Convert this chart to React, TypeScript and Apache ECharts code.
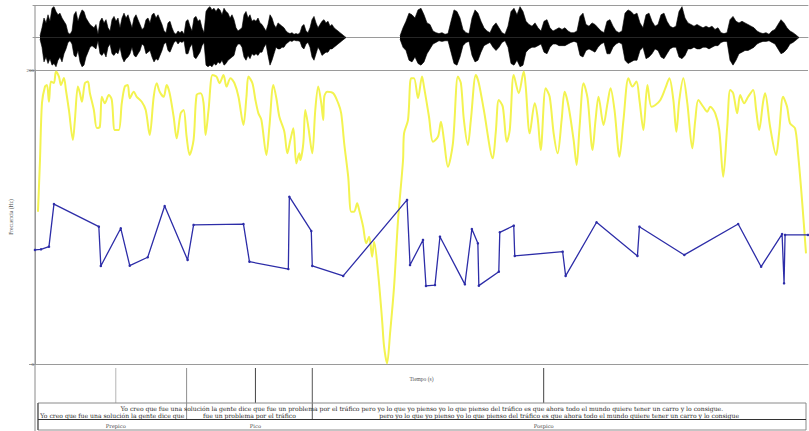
import React, { useEffect, useRef } from "react";
import * as echarts from "echarts";

// ---------- data (time in s, amplitude normalised, frequency in Hz) ----------
const T_MAX = 7.75;

// waveform envelope: [time, upper, lower]
const waveA: number[][] = [
  [0.07,0.05,-0.05],[0.09,0.3,-0.3],[0.11,0.6,-0.75],[0.13,0.45,-0.6],[0.15,0.7,-0.8],[0.17,0.5,-0.65],[0.19,0.9,-0.85],[0.21,0.95,-0.8],[0.23,0.8,-0.9],[0.25,0.7,-0.7],[0.27,0.75,-0.6],[0.29,0.6,-0.75],[0.31,0.5,-0.5],[0.33,0.4,-0.35],[0.35,0.15,-0.15],[0.37,0.1,-0.1],[0.39,0.2,-0.2],[0.41,0.7,-0.55],[0.43,0.8,-0.6],[0.45,0.5,-0.4],[0.47,0.7,-0.75],[0.49,0.85,-0.9],[0.51,0.8,-0.85],[0.53,0.6,-0.6],[0.55,0.5,-0.45],[0.57,0.4,-0.3],[0.59,0.35,-0.25],[0.61,0.3,-0.3],[0.63,0.4,-0.35],[0.65,0.1,-0.1],[0.67,0.5,-0.5],[0.69,0.6,-0.55],[0.71,0.45,-0.45],[0.73,0.55,-0.6],[0.75,0.3,-0.3],[0.77,0.2,-0.2],[0.79,0.55,-0.5],[0.81,0.65,-0.55],[0.83,0.5,-0.45],[0.85,0.6,-0.5],[0.87,0.3,-0.3],[0.89,0.6,-0.6],[0.91,0.75,-0.75],[0.93,0.6,-0.65],[0.95,0.7,-0.6],[0.97,0.5,-0.5],[0.99,0.3,-0.3],[1.01,0.6,-0.55],[1.03,0.7,-0.6],[1.05,0.55,-0.5],[1.07,0.4,-0.4],[1.09,0.25,-0.2],[1.11,0.3,-0.25],[1.13,0.55,-0.5],[1.15,0.6,-0.45],[1.17,0.45,-0.4],[1.19,0.7,-0.6],[1.21,0.75,-0.75],[1.23,0.6,-0.65],[1.25,0.7,-0.7],[1.27,0.55,-0.55],[1.29,0.4,-0.4],[1.31,0.2,-0.2],[1.33,0.15,-0.15],[1.35,0.45,-0.4],[1.37,0.5,-0.45],[1.39,0.3,-0.3],[1.41,0.15,-0.15],[1.43,0.1,-0.1],[1.45,0.2,-0.2],[1.47,0.15,-0.12],[1.49,0.2,-0.15],[1.51,0.1,-0.1],[1.53,0.5,-0.5],[1.55,0.55,-0.5],[1.57,0.35,-0.3],[1.59,0.2,-0.2],[1.61,0.6,-0.6],[1.63,0.65,-0.65],[1.65,0.5,-0.55],[1.67,0.55,-0.45],[1.69,0.3,-0.25],[1.71,0.15,-0.15],[1.73,0.8,-0.85],[1.75,0.9,-0.9],[1.77,0.95,-0.85],[1.79,0.85,-0.9],[1.81,0.9,-0.8],[1.83,0.8,-0.85],[1.85,0.9,-0.75],[1.87,0.85,-0.8],[1.89,0.7,-0.7],[1.91,0.9,-0.85],[1.93,0.8,-0.8],[1.95,0.75,-0.7],[1.97,0.6,-0.65],[1.99,0.7,-0.6],[2.01,0.55,-0.55],[2.03,0.3,-0.3],[2.05,0.2,-0.2],[2.07,0.25,-0.2],[2.09,0.3,-0.3],[2.11,0.7,-0.6],[2.13,0.8,-0.7],[2.15,0.6,-0.55],[2.17,0.7,-0.65],[2.19,0.5,-0.5],[2.21,0.55,-0.55],[2.23,0.5,-0.5],[2.25,0.6,-0.55],[2.27,0.45,-0.45],[2.29,0.4,-0.45],[2.31,0.3,-0.3],[2.33,0.2,-0.2],[2.35,0.4,-0.55],[2.37,0.7,-0.85],[2.39,0.6,-0.7],[2.41,0.4,-0.5],[2.43,0.3,-0.3],[2.45,0.45,-0.35],[2.47,0.4,-0.35],[2.49,0.35,-0.3],[2.51,0.3,-0.3],[2.53,0.2,-0.2],[2.55,0.15,-0.15],[2.57,0.12,-0.1],[2.59,0.15,-0.12],[2.61,0.1,-0.08],[2.63,0.12,-0.1],[2.65,0.1,-0.1],[2.67,0.15,-0.12],[2.69,0.35,-0.3],[2.71,0.4,-0.35],[2.73,0.2,-0.2],[2.75,0.15,-0.15],[2.77,0.3,-0.3],[2.79,0.55,-0.6],[2.81,0.65,-0.7],[2.83,0.45,-0.5],[2.85,0.3,-0.3],[2.87,0.4,-0.4],[2.89,0.5,-0.55],[2.91,0.55,-0.5],[2.93,0.45,-0.45],[2.95,0.5,-0.45],[2.97,0.35,-0.35],[2.99,0.4,-0.35],[3.01,0.3,-0.3],[3.03,0.25,-0.25],[3.05,0.2,-0.2],[3.07,0.15,-0.15],[3.09,0.1,-0.1],[3.11,0.05,-0.05],[3.13,0,0]
];

const waveB: number[][] = [
  [3.67,0.05,-0.05],[3.70,0.3,-0.3],[3.73,0.5,-0.4],[3.76,0.75,-0.7],[3.79,0.7,-0.75],[3.82,0.6,-0.6],[3.85,0.85,-0.8],[3.88,0.9,-0.85],[3.91,0.7,-0.75],[3.94,0.45,-0.5],[3.97,0.4,-0.35],[4.00,0.2,-0.2],[4.03,0.15,-0.15],[4.06,0.12,-0.1],[4.09,0.15,-0.12],[4.12,0.1,-0.1],[4.15,0.12,-0.1],[4.18,0.5,-0.45],[4.21,0.85,-0.8],[4.24,0.8,-0.85],[4.27,0.6,-0.6],[4.30,0.25,-0.25],[4.33,0.15,-0.15],[4.36,0.12,-0.12],[4.39,0.6,-0.55],[4.42,0.85,-0.75],[4.45,0.75,-0.7],[4.48,0.5,-0.45],[4.51,0.3,-0.25],[4.54,0.2,-0.2],[4.57,0.15,-0.15],[4.60,0.35,-0.3],[4.63,0.45,-0.4],[4.66,0.3,-0.3],[4.69,0.15,-0.15],[4.72,0.1,-0.1],[4.75,0.35,-0.3],[4.78,0.8,-0.8],[4.81,0.9,-0.85],[4.84,0.7,-0.7],[4.87,0.95,-0.9],[4.90,0.8,-0.85],[4.93,0.5,-0.45],[4.96,0.4,-0.35],[4.99,0.35,-0.3],[5.02,0.45,-0.3],[5.05,0.3,-0.25],[5.08,0.2,-0.2],[5.11,0.5,-0.45],[5.14,0.55,-0.5],[5.17,0.3,-0.3],[5.20,0.2,-0.2],[5.23,0.25,-0.2],[5.26,0.3,-0.25],[5.29,0.25,-0.25],[5.32,0.3,-0.25],[5.35,0.2,-0.2],[5.38,0.15,-0.15],[5.41,0.15,-0.12],[5.44,0.2,-0.15],[5.47,0.65,-0.55],[5.50,0.75,-0.6],[5.53,0.4,-0.4],[5.56,0.35,-0.35],[5.59,0.45,-0.4],[5.62,0.4,-0.45],[5.65,0.3,-0.3],[5.68,0.2,-0.2],[5.71,0.15,-0.15],[5.74,0.5,-0.5],[5.77,0.55,-0.5],[5.80,0.35,-0.3],[5.83,0.2,-0.2],[5.86,0.15,-0.15],[5.89,0.2,-0.2],[5.92,0.75,-0.7],[5.95,0.85,-0.8],[5.98,0.8,-0.75],[6.01,0.7,-0.7],[6.04,0.75,-0.7],[6.07,0.45,-0.4],[6.10,0.3,-0.3],[6.13,0.7,-0.65],[6.16,0.75,-0.6],[6.19,0.5,-0.5],[6.22,0.35,-0.35],[6.25,0.4,-0.4],[6.28,0.7,-0.6],[6.31,0.75,-0.65],[6.34,0.5,-0.5],[6.37,0.35,-0.35],[6.40,0.3,-0.3],[6.43,0.35,-0.3],[6.46,0.8,-0.6],[6.49,0.95,-0.65],[6.52,0.6,-0.55],[6.55,0.45,-0.35],[6.58,0.4,-0.35],[6.61,0.35,-0.3],[6.64,0.4,-0.35],[6.67,0.35,-0.35],[6.70,0.3,-0.3],[6.73,0.35,-0.3],[6.76,0.3,-0.35],[6.79,0.35,-0.3],[6.82,0.25,-0.25],[6.85,0.3,-0.25],[6.88,0.15,-0.15],[6.91,0.12,-0.12],[6.94,0.15,-0.12],[6.97,0.55,-0.7],[7.00,0.65,-0.85],[7.03,0.5,-0.7],[7.06,0.45,-0.5],[7.09,0.5,-0.45],[7.12,0.45,-0.4],[7.15,0.4,-0.4],[7.18,0.35,-0.35],[7.21,0.3,-0.3],[7.24,0.2,-0.2],[7.27,0.15,-0.15],[7.30,0.12,-0.12],[7.33,0.15,-0.12],[7.36,0.1,-0.1],[7.39,0.2,-0.15],[7.42,0.25,-0.2],[7.45,0.4,-0.35],[7.48,0.55,-0.5],[7.51,0.45,-0.45],[7.54,0.3,-0.35],[7.57,0.2,-0.2],[7.60,0.15,-0.15],[7.63,0.08,-0.08],[7.66,0,0]
];

// pitch contour (yellow): [time, Hz]
const pitchCurve: number[][] = [
  [0.03,103.6],[0.05,138.8],[0.07,177.6],[0.10,188.7],[0.12,189.8],[0.14,178.4],[0.16,192.1],[0.19,191.2],[0.21,198.9],[0.24,195.5],[0.26,189.8],[0.29,194.6],[0.31,186.4],[0.34,172.8],[0.38,152.4],[0.40,166.0],[0.43,188.7],[0.45,184.4],[0.47,178.4],[0.50,191.0],[0.53,192.1],[0.55,184.4],[0.59,172.8],[0.62,160.6],[0.65,161.4],[0.67,181.8],[0.70,177.4],[0.74,183.0],[0.77,179.6],[0.80,159.2],[0.84,159.2],[0.87,177.4],[0.90,188.7],[0.93,189.8],[0.95,180.8],[0.99,185.2],[1.02,181.8],[1.07,178.4],[1.11,172.8],[1.15,155.8],[1.19,181.8],[1.22,191.0],[1.25,185.2],[1.29,181.8],[1.32,189.8],[1.35,184.2],[1.39,168.2],[1.42,153.5],[1.46,170.5],[1.49,172.8],[1.52,154.6],[1.55,142.2],[1.59,152.4],[1.62,183.0],[1.66,184.2],[1.69,177.4],[1.71,155.8],[1.74,172.8],[1.78,196.6],[1.82,195.5],[1.85,191.0],[1.89,196.6],[1.92,188.7],[1.96,194.4],[2.00,191.0],[2.04,181.8],[2.09,162.6],[2.12,181.8],[2.14,195.5],[2.18,191.0],[2.21,179.6],[2.24,170.5],[2.27,166.0],[2.32,142.2],[2.35,161.4],[2.39,189.8],[2.42,180.8],[2.45,168.2],[2.50,158.0],[2.53,143.3],[2.56,152.4],[2.59,160.3],[2.62,136.5],[2.65,143.3],[2.66,138.8],[2.69,150.1],[2.71,172.8],[2.74,161.4],[2.78,143.3],[2.81,172.8],[2.84,188.7],[2.87,177.4],[2.89,166.0],[2.90,181.8],[2.93,185.2],[2.99,184.2],[3.04,177.4],[3.07,170.5],[3.10,150.1],[3.14,127.4],[3.17,103.6],[3.20,103.6],[3.23,109.3],[3.25,104.8],[3.29,93.4],[3.32,82.1],[3.35,86.6],[3.38,73.0],[3.40,83.2],[3.44,61.7],[3.48,29.9],[3.50,11.8],[3.53,0.5],[3.56,20.9],[3.60,52.6],[3.64,98.0],[3.69,138.8],[3.70,156.9],[3.74,166.0],[3.77,194.4],[3.80,194.4],[3.84,180.8],[3.88,195.5],[3.90,188.7],[3.95,168.2],[3.99,151.2],[4.04,154.6],[4.07,164.8],[4.10,152.4],[4.14,134.2],[4.19,150.1],[4.24,195.5],[4.27,191.0],[4.30,166.0],[4.34,149.0],[4.37,166.0],[4.42,196.6],[4.45,191.0],[4.50,172.8],[4.59,139.9],[4.62,158.0],[4.65,179.6],[4.69,175.0],[4.73,151.2],[4.76,159.2],[4.80,196.6],[4.85,184.2],[4.90,198.9],[4.92,188.7],[4.96,156.9],[5.01,177.4],[5.04,167.1],[5.07,145.6],[5.12,187.6],[5.16,181.8],[5.20,156.9],[5.24,143.3],[5.28,166.0],[5.31,185.2],[5.35,175.0],[5.40,152.4],[5.43,135.4],[5.46,161.4],[5.50,191.0],[5.54,180.8],[5.59,145.6],[5.62,166.0],[5.65,181.8],[5.70,162.6],[5.74,177.4],[5.77,187.6],[5.81,172.8],[5.86,141.0],[5.90,166.0],[5.95,194.4],[5.99,188.7],[6.03,192.1],[6.06,179.6],[6.10,159.2],[6.14,189.8],[6.18,175.0],[6.22,176.2],[6.27,179.6],[6.32,187.6],[6.36,194.4],[6.40,179.6],[6.43,158.0],[6.46,179.6],[6.50,194.4],[6.54,177.4],[6.59,146.7],[6.62,166.0],[6.65,179.6],[6.70,175.0],[6.74,171.6],[6.77,175.0],[6.82,170.5],[6.86,159.2],[6.90,127.4],[6.94,161.4],[6.97,186.4],[7.00,184.2],[7.04,170.5],[7.07,183.0],[7.11,177.4],[7.15,181.8],[7.20,186.4],[7.23,172.8],[7.26,159.2],[7.30,178.4],[7.32,184.2],[7.37,161.4],[7.43,142.2],[7.46,156.9],[7.50,181.8],[7.54,175.0],[7.57,163.7],[7.62,160.3],[7.65,143.3],[7.69,111.6],[7.73,75.3]
];

// stylised contour (blue): [time, Hz]
const stylized: number[][] = [
  [0.00,77.6],[0.06,78.0],[0.14,79.8],[0.19,108.8],[0.64,93.4],[0.66,66.7],[0.86,92.3],[0.95,66.9],[1.13,72.6],[1.30,107.5],[1.53,70.8],[1.59,94.6],[2.09,95.2],[2.15,69.6],[2.54,64.6],[2.55,113.8],[2.77,90.5],[2.78,66.7],[3.09,59.9],[3.73,111.6],[3.76,67.3],[3.89,84.4],[3.92,53.1],[4.01,53.7],[4.06,86.6],[4.31,54.2],[4.38,91.8],[4.44,82.1],[4.45,53.3],[4.65,62.8],[4.66,89.6],[4.80,94.1],[4.81,73.5],[5.29,76.4],[5.32,59.9],[5.63,96.4],[6.04,73.5],[6.06,93.4],[6.51,74.2],[7.05,95.2],[7.28,66.2],[7.49,88.4],[7.51,54.9],[7.52,87.8],[7.75,87.8]
];

const freqTicks = [0, 200];
const sentence =
  "Yo creo que fue una solución la gente dice que fue un problema por el tráfico pero yo lo que yo pienso yo lo que pienso del tráfico es que ahora todo el mundo quiere tener un carro y lo consigue.";
const phraseBounds = [0.03, 1.52, 2.78, 7.73];
const phraseTexts = [
  "Yo creo que fue una solución la gente dice que",
  "fue un problema por el tráfico",
  "pero yo lo que yo pienso yo lo que pienso del tráfico es que ahora todo el mundo quiere tener un carro y lo consigue",
];
const pointTimes = [0.81, 2.21, 5.1];
const pointLabels = ["Prepico", "Pico", "Pospico"];

// ---------- layout ----------
const LEFT = 33;
const WIDTH = 775;
const SERIF = '"Liberation Serif", "Times New Roman", serif';
const WIDE_SERIF = '"DejaVu Serif", "Liberation Serif", serif';
const GRAY = "#9a9a9a";

function txt(text: string, x: number, y: number, size: number, fill = "#2a2a2a", family = WIDE_SERIF) {
  return {
    type: "text",
    silent: true,
    style: {
      text, x, y, fill,
      fontSize: size, fontFamily: family,
      align: "center", verticalAlign: "middle",
      textAlign: "center", textVerticalAlign: "middle",
    },
  };
}
function ln(x1: number, y1: number, x2: number, y2: number, stroke: string, w = 1) {
  return { type: "line", silent: true, shape: { x1, y1, x2, y2 }, style: { stroke, lineWidth: w } };
}

export default function App() {
  const ref = useRef<HTMLDivElement>(null);
  useEffect(() => {
    if (!ref.current) return;
    const chart = echarts.init(ref.current, undefined, { renderer: "svg" });

    const waveSeries: any[] = [];
    [waveA, waveB].forEach((seg) => {
      [1, 2].forEach((k) => {
        waveSeries.push({
          type: "line",
          xAxisIndex: 0,
          yAxisIndex: 0,
          data: seg.map((d) => [d[0], d[k]]),
          showSymbol: false,
          symbol: "none",
          lineStyle: { color: "#000", width: 0.6 },
          areaStyle: { color: "#000", opacity: 1 },
          silent: true,
          z: 3,
        });
      });
    });

    chart.setOption({
      animation: false,
      backgroundColor: "#fff",
      grid: [
        { left: LEFT, top: 5, width: WIDTH, height: 65 },
        { left: LEFT, top: 70, width: WIDTH, height: 294 },
      ],
      xAxis: [
        {
          type: "value", gridIndex: 0, min: 0, max: T_MAX,
          axisLine: { show: true, onZero: true, lineStyle: { color: GRAY, width: 1 } },
          axisTick: { show: false }, axisLabel: { show: false }, splitLine: { show: false },
        },
        {
          type: "value", gridIndex: 0, min: 0, max: T_MAX, position: "top",
          axisLine: { show: true, onZero: false, lineStyle: { color: GRAY, width: 1 } },
          axisTick: { show: false }, axisLabel: { show: false }, splitLine: { show: false },
        },
        {
          type: "value", gridIndex: 1, min: 0, max: T_MAX,
          axisLine: { show: true, onZero: false, lineStyle: { color: GRAY, width: 1 } },
          axisTick: { show: false }, axisLabel: { show: false }, splitLine: { show: false },
          name: "Tiempo (s)", nameLocation: "middle", nameGap: 12,
          nameTextStyle: { fontSize: 5.5, color: "#555", fontFamily: SERIF },
        },
      ],
      yAxis: [
        { type: "value", gridIndex: 0, min: -1, max: 1, show: false },
        {
          type: "value", gridIndex: 1, min: freqTicks[0], max: freqTicks[1], interval: 200,
          axisLine: { show: true, lineStyle: { color: GRAY } },
          axisTick: { show: true, length: 6, lineStyle: { color: GRAY } },
          axisLabel: { fontSize: 5, color: "#555", margin: 1, fontFamily: SERIF },
          splitLine: { show: true, lineStyle: { color: GRAY, width: 1 } },
          name: "Frecuencia (Hz)", nameLocation: "middle", nameRotate: 90, nameGap: 21,
          nameTextStyle: { fontSize: 5.5, color: "#555", fontFamily: SERIF },
        },
      ],
      series: [
        ...waveSeries,
        {
          type: "line", xAxisIndex: 2, yAxisIndex: 1, data: pitchCurve,
          showSymbol: false, symbol: "none", smooth: 0.3,
          lineStyle: { color: "#f3f350", width: 2 }, silent: true, z: 3,
        },
        {
          type: "line", xAxisIndex: 2, yAxisIndex: 1, data: stylized,
          symbol: "circle", symbolSize: 2.5, showSymbol: true,
          itemStyle: { color: "#2d2da8" },
          lineStyle: { color: "#2d2da8", width: 1.3 }, silent: true, z: 4,
        },
      ],
    });

    const px = (t: number) => chart.convertToPixel({ xAxisIndex: 2 }, t) as number;
    const g: any[] = [];
    g.push(ln(px(0), 5, px(0), 431, "#8a8a8a"));
    // boundaries of the phrase tier reaching up into the upper tier
    g.push(ln(px(phraseBounds[1]), 368, px(phraseBounds[1]), 419, "#8f8f8f"));
    g.push(ln(px(phraseBounds[2]), 368, px(phraseBounds[2]), 419, "#555"));
    // labelled points
    const ptColors = ["#b5b5b5", "#444", "#444"];
    pointTimes.forEach((t, i) => {
      g.push(ln(px(t), 368, px(t), 403, ptColors[i]));
      g.push(txt(pointLabels[i], px(t), 425.5, 5.2, "#444"));
    });
    const bx0 = px(phraseBounds[0]);
    const bx1 = px(phraseBounds[3]);
    g.push({
      type: "rect", silent: true,
      shape: { x: bx0, y: 403, width: bx1 - bx0, height: 27 },
      style: { fill: "none", stroke: "#8a8a8a", lineWidth: 1 },
    });
    g.push(ln(bx0, 403, bx0, 430, "#444"));
    g.push(ln(bx0, 419.5, bx1, 419.5, "#333"));
    g.push(txt(sentence, (bx0 + bx1) / 2, 408.5, 6.1));
    phraseTexts.forEach((s, i) => {
      const c = (px(phraseBounds[i]) + px(phraseBounds[i + 1])) / 2;
      g.push(txt(s, c, 415, 6.1));
    });
    chart.setOption({ graphic: g });

    return () => chart.dispose();
  }, []);
  return (
    <div
      ref={ref}
      style={{ position: "absolute", left: 0, top: 0, width: 809, height: 431 }}
    />
  );
}
